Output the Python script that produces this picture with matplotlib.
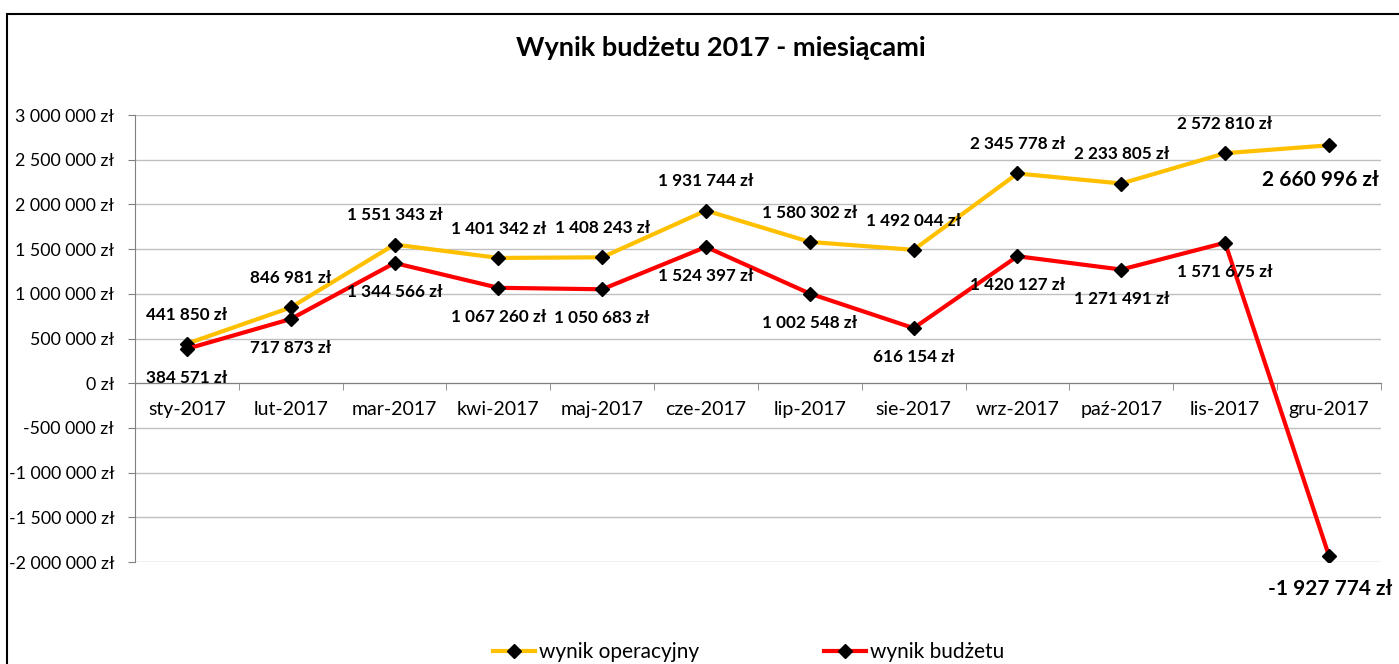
import matplotlib.pyplot as plt
import numpy as np
from matplotlib.patches import Rectangle

# dane
miesiace = ['sty-2017', 'lut-2017', 'mar-2017', 'kwi-2017', 'maj-2017', 'cze-2017',
            'lip-2017', 'sie-2017', 'wrz-2017', 'paź-2017', 'lis-2017', 'gru-2017']
wynik_operacyjny = [441850, 846981, 1551343, 1401342, 1408243, 1931744,
                    1580302, 1492044, 2345778, 2233805, 2572810, 2660996]
wynik_budzetu = [384571, 717873, 1344566, 1067260, 1050683, 1524397,
                 1002548, 616154, 1420127, 1271491, 1571675, -1927774]
y_ticks = np.arange(-2000000, 3000001, 500000)

plt.rcParams['font.family'] = ['Lato', 'DejaVu Sans']


def zl(v):
    return f"{v:,.0f}".replace(',', ' ') + ' zł'


fig = plt.figure(figsize=(13.99, 6.64), dpi=100)
ax = fig.add_axes([0.0965, 0.1536, 0.8905, 0.6732])

x = np.arange(len(miesiace))
ax.plot(x, wynik_operacyjny, color='#FFC000', lw=3, marker='D', ms=7,
        mfc='black', mec='black', label='wynik operacyjny', zorder=3)
ax.plot(x, wynik_budzetu, color='#FF0000', lw=3, marker='D', ms=7,
        mfc='black', mec='black', label='wynik budżetu', zorder=3)

# etykiety danych
n = len(miesiace)
for i in range(n - 1):
    ax.annotate(zl(wynik_operacyjny[i]), (i, wynik_operacyjny[i]), xytext=(0, 21),
                textcoords='offset points', ha='center', va='center',
                fontsize=12.3, fontweight='bold')
    ax.annotate(zl(wynik_budzetu[i]), (i, wynik_budzetu[i]), xytext=(0, -21),
                textcoords='offset points', ha='center', va='center',
                fontsize=12.3, fontweight='bold')
ax.annotate(zl(wynik_operacyjny[-1]), (n - 1, wynik_operacyjny[-1]), xytext=(-6, -25),
            textcoords='offset points', ha='center', va='center',
            fontsize=15, fontweight='bold')
ax.annotate(zl(wynik_budzetu[-1]), (n - 1, wynik_budzetu[-1]), xytext=(1, -24),
            textcoords='offset points', ha='center', va='center',
            fontsize=15, fontweight='bold')

ax.set_xlim(-0.5, n - 0.5)
ax.set_ylim(-2000000, 3000000)
ax.set_yticks(y_ticks)
ax.set_yticklabels([zl(v) for v in y_ticks])
ax.grid(axis='y', color='#BFBFBF', lw=1)
ax.set_axisbelow(True)

ax.set_xticks(x)
ax.set_xticklabels(miesiace)
ax.set_xticks(np.arange(-0.5, n, 1), minor=True)
ax.tick_params(axis='x', which='major', length=0, pad=13, labelsize=14)
ax.tick_params(axis='x', which='minor', length=5, color='#808080')
ax.tick_params(axis='y', length=5, color='#808080', pad=10, labelsize=12.8)

for s in ['top', 'right']:
    ax.spines[s].set_visible(False)
ax.spines['bottom'].set_position(('data', 0))
ax.spines['bottom'].set_color('#808080')
ax.spines['left'].set_color('#808080')

fig.text(0.515, 0.928, 'Wynik budżetu 2017 - miesiącami', ha='center', va='center',
         fontsize=19.5, fontweight='bold')

fig.legend(loc='center', bbox_to_anchor=(0.535, 0.018), ncol=2, frameon=False,
           fontsize=15, columnspacing=6, handlelength=2, handletextpad=0.2)

fig.patches.append(Rectangle((0.005, -0.1), 1.1, 1.079, transform=fig.transFigure,
                             fill=False, ec='black', lw=1.5))

fig.savefig('out.png', dpi=100)
